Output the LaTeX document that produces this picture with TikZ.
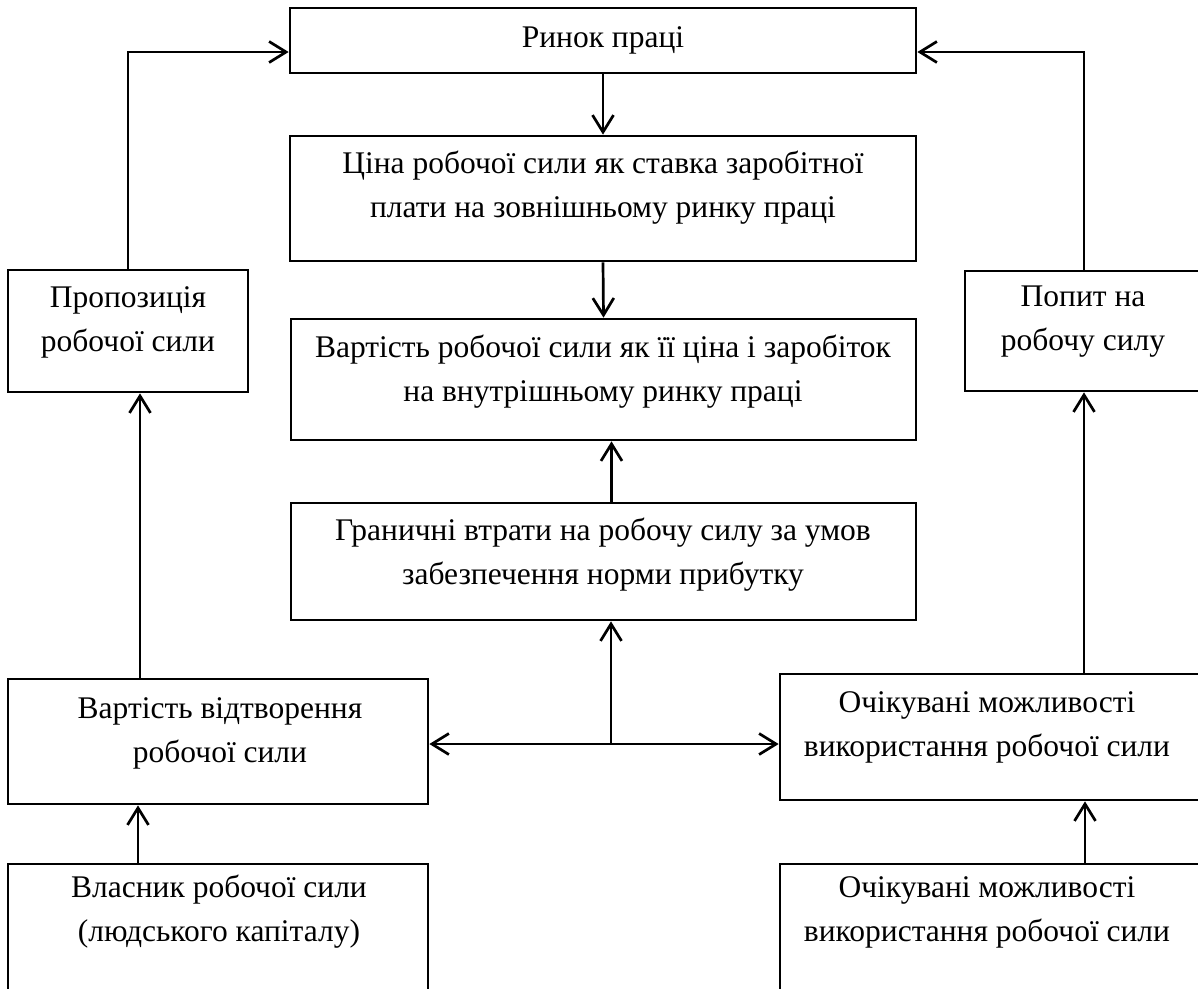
\documentclass[tikz,border=0pt]{standalone}
\usepackage{fontspec}
\setmainfont{Liberation Serif}
\usetikzlibrary{arrows.meta}
\begin{document}
\begin{tikzpicture}[x=1pt,y=-1pt,
  box/.style={draw, line width=2.7pt, inner sep=0pt},
  lbl/.style={align=center, font=\fontsize{31.5}{44}\selectfont, inner sep=0pt},
  arr/.style={line width=2.7pt, -{Straight Barb[length=17pt,width=21pt]}}
]
\useasboundingbox (0,0) rectangle (1198,988);
\clip (0,0) rectangle (1198,988);
% boxes
\node[box, minimum width=626pt, minimum height=65pt] (rynok) at (603,40.5) {};
\node[box, minimum width=626pt, minimum height=125pt] (cina) at (603,198.5) {};
\node[box, minimum width=625pt, minimum height=121pt] (varts) at (603.5,379.5) {};
\node[box, minimum width=625pt, minimum height=117pt] (gran) at (603.5,561.5) {};
\node[box, minimum width=240pt, minimum height=122pt] (prop) at (128,331) {};
\node[box, minimum width=236pt, minimum height=120pt] (popyt) at (1083,331) {};
\node[box, minimum width=420pt, minimum height=125pt] (vv) at (218,741.5) {};
\node[box, minimum width=420pt, minimum height=126pt] (ochmid) at (990,737) {};
\node[box, minimum width=420pt, minimum height=146pt] (vlasnyk) at (218,937) {};
\node[box, minimum width=420pt, minimum height=146pt] (ochbot) at (990,937) {};
% texts
\node[lbl] (t1) at (603,40) {Ринок праці};
\node[lbl] (t2) at (603,188) {Ціна робочої сили як ставка заробітної\\плати на зовнішньому ринку праці};
\node[lbl] (t3) at (603,372) {Вартість робочої сили як її ціна і заробіток\\на внутрішньому ринку праці};
\node[lbl] (t4) at (603,555) {Граничні втрати на робочу силу за умов\\забезпечення норми прибутку};
\node[lbl] (t5) at (128,322) {Пропозиція\\робочої сили};
\node[lbl] (t6) at (1083,322) {Попит на\\робочу силу};
\node[lbl] (t7) at (220,733) {Вартість відтворення\\робочої сили};
\node[lbl] (t8) at (987,727) {Очікувані можливості\\використання робочої сили};
\node[lbl] (t9) at (219,912) {Власник робочої сили\\(людського капіталу)};
\node[lbl] (t10) at (987,912) {Очікувані можливості\\використання робочої сили};
% connectors
\draw[arr] (prop.north) |- ([yshift=-11.5pt]rynok.west);
\draw[arr] ([xshift=1pt]popyt.north) |- ([yshift=-11.5pt]rynok.east);
\draw[arr] (rynok.south) -- (cina.north);
\draw[arr] (cina.south) -- (varts.north);
\draw[arr] ([xshift=8pt]gran.north) -- ([xshift=8pt]varts.south);
\coordinate (j) at (611,744);
\draw[arr] (j) -- (j |- gran.south);
\draw[arr] (j) -- (j -| vv.east);
\draw[arr] (j) -- (j -| ochmid.west);
\coordinate (a) at (140,0);
\coordinate (b) at (138,0);
\coordinate (c) at (1084,0);
\coordinate (d) at (1085,0);
\draw[arr] (vv.north -| a) -- (prop.south -| a);
\draw[arr] (vlasnyk.north -| b) -- (vv.south -| b);
\draw[arr] (ochmid.north -| c) -- (popyt.south -| c);
\draw[arr] (ochbot.north -| d) -- (ochmid.south -| d);
\end{tikzpicture}
\end{document}
